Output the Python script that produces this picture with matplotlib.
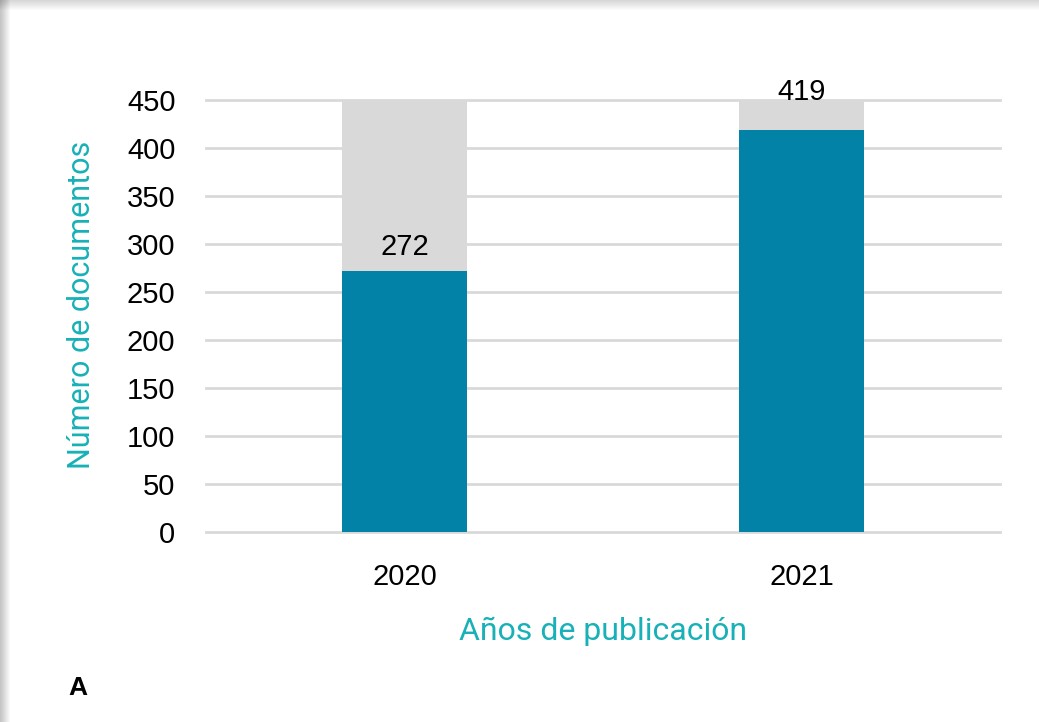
#!/usr/bin/env python3

import matplotlib.pyplot as plt
from matplotlib.patches import Rectangle

# data
years = ['2020', '2021']
documentos = [272, 419]
y_max = 450
y_ticks = [0, 50, 100, 150, 200, 250, 300, 350, 400, 450]

plt.rcParams['font.family'] = ['Liberation Sans', 'DejaVu Sans']

fig = plt.figure(figsize=(10.39, 7.22), dpi=100)
fig.patch.set_facecolor('white')

# soft card shadow on left / top edges
for i in range(10):
    a = 0.022
    fig.patches.append(Rectangle((0, 0), (10 - i) / 1039, 1, transform=fig.transFigure,
                                 facecolor='black', alpha=a, edgecolor='none', zorder=0))
    fig.patches.append(Rectangle((0, 1 - (10 - i) / 722), 1, (10 - i) / 722,
                                 transform=fig.transFigure, facecolor='black', alpha=a * 0.7,
                                 edgecolor='none', zorder=0))

ax = fig.add_axes([206 / 1039, 1 - 532 / 722, 794 / 1039, 432 / 722])
x = range(len(years))
width = 0.315

# grey background bar up to the axis maximum, then the real value
ax.bar(x, [y_max] * len(years), width=width, color='#D9D9D9', zorder=2)
ax.bar(x, documentos, width=width, color='#0382A8', zorder=3)

label_offsets = [7, 17]  # the labels sit at slightly different heights in the original
for xi, v, off in zip(x, documentos, label_offsets):
    ax.annotate(str(v), (xi, v), xytext=(0, off), textcoords='offset points',
                ha='center', va='bottom', fontsize=21, color='black', zorder=4,
                annotation_clip=False)

ax.set_xlim(-0.5, 1.5)
ax.set_ylim(0, y_max)
ax.set_yticks(y_ticks)
ax.set_xticks(list(x))
ax.set_xticklabels(years)
ax.tick_params(axis='both', length=0, labelsize=21, colors='black')
ax.tick_params(axis='y', pad=22)
ax.tick_params(axis='x', pad=22)
ax.yaxis.grid(True, color='#D9D9D9', linewidth=2, zorder=1)
for gl in ax.get_ygridlines():
    gl.set_clip_on(False)
ax.set_axisbelow(True)
for s in ax.spines.values():
    s.set_visible(False)

ax.set_ylabel('Número de documentos', fontsize=22, color='#17B1B7', labelpad=20,
              family=['Roboto', 'DejaVu Sans'])
ax.set_xlabel('Años de publicación', fontsize=23, color='#17B1B7', labelpad=19,
              family=['Roboto', 'DejaVu Sans'])
ax.yaxis.set_label_coords(-0.138, 0.525)

fig.text(68 / 1039, 1 - 688 / 722, 'A', fontsize=19, fontweight='bold', va='center')

plt.savefig('out.png', dpi=100)
